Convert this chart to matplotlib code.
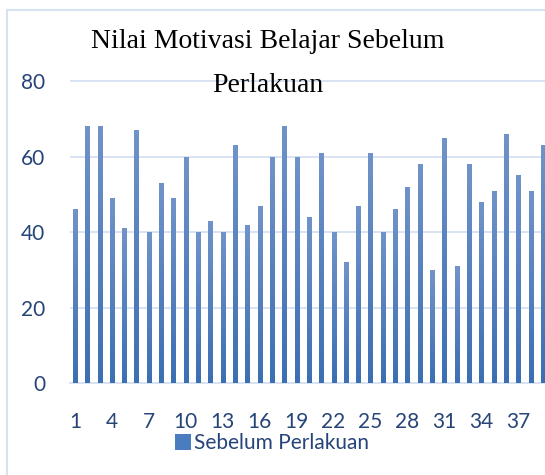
import numpy as np
import matplotlib
matplotlib.use("Agg")
import matplotlib.pyplot as plt
from matplotlib.colors import LinearSegmentedColormap
from matplotlib.patches import Rectangle

siswa = list(range(1, 40))
nilai = [46, 68, 68, 49, 41, 67, 40, 53, 49, 60,
         40, 43, 40, 63, 42, 47, 60, 68, 60, 44,
         61, 40, 32, 47, 61, 40, 46, 52, 58, 30,
         65, 31, 58, 48, 51, 66, 55, 51, 63]
x_ticks = list(range(1, 40, 3))
y_ticks = [0, 20, 40, 60, 80]
judul = ["Nilai Motivasi Belajar Sebelum", "Perlakuan"]
seri = "Sebelum Perlakuan"

txt = "#264478"
grid = "#D6E1F2"
grad = LinearSegmentedColormap.from_list("bar", ["#3C6FB3", "#7093C9"])

fig = plt.figure(figsize=(5.45, 4.75), dpi=100)
ax = fig.add_axes([70 / 545, 92 / 475, 475 / 545, 303 / 475])

bars = ax.bar(siswa, nilai, width=0.33, color="#4A7CC0", label=seri, zorder=2)
g = np.linspace(0, 1, 100).reshape(-1, 1)
for b in bars:
    im = ax.imshow(g, cmap=grad, origin="lower", aspect="auto", zorder=3,
                   extent=[b.get_x(), b.get_x() + b.get_width(), 0, b.get_height()])
    im.set_clip_path(b)

ax.set_xlim(0.6, 39.17)
ax.set_ylim(0, 80.3)
ax.set_yticks(y_ticks)
ax.set_xticks(x_ticks)
ax.grid(axis="y", color=grid, linewidth=1.3, zorder=0)
for s in ["top", "right", "left"]:
    ax.spines[s].set_visible(False)
ax.spines["bottom"].set_color(grid)
ax.spines["bottom"].set_linewidth(1.3)
ax.tick_params(length=0, labelsize=15, labelcolor=txt)
ax.tick_params(axis="y", pad=18)
ax.tick_params(axis="x", pad=21)
for lab in ax.get_xticklabels() + ax.get_yticklabels():
    lab.set_family("Lato")

fig.text(268 / 545, 1 - 48 / 475, judul[0], ha="center", va="baseline",
         family="Liberation Serif", fontsize=20)
fig.text(268 / 545, 1 - 92 / 475, judul[1], ha="center", va="baseline",
         family="Liberation Serif", fontsize=20)

leg = fig.legend(handles=[bars], labels=[seri], loc="center",
                 bbox_to_anchor=(272 / 545, 1 - 443 / 475), frameon=False,
                 handlelength=0.8, handleheight=0.8, handletextpad=0.15,
                 borderpad=0.1, prop={"family": "Lato", "size": 15})
for t in leg.get_texts():
    t.set_color(txt)

fig.patches.append(Rectangle((7 / 545, -0.1), 1.2, 1 - 10 / 475 + 0.1,
                             transform=fig.transFigure, fill=False,
                             edgecolor=grid, linewidth=1.5))

fig.savefig("out.png", dpi=100)
